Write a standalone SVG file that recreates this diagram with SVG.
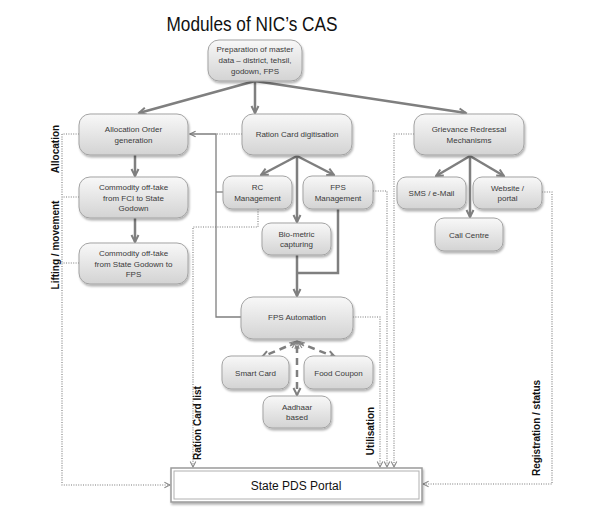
<svg xmlns="http://www.w3.org/2000/svg" width="608" height="520" viewBox="0 0 608 520">
<defs>
<linearGradient id="g" x1="0" y1="0" x2="0" y2="1">
<stop offset="0" stop-color="#f8f8f8"/>
<stop offset="1" stop-color="#d3d3d3"/>
</linearGradient>
<filter id="sh" x="-20%" y="-20%" width="140%" height="150%">
<feDropShadow dx="1" dy="2" stdDeviation="1.3" flood-color="#000" flood-opacity="0.3"/>
</filter>
<marker id="ah" viewBox="0 0 10 10" refX="8.5" refY="5" markerWidth="4" markerHeight="4" orient="auto" markerUnits="strokeWidth">
<path d="M1.5,1.5 L8.5,5 L1.5,8.5" fill="none" stroke="#7f7f7f" stroke-width="2"/>
</marker>
<marker id="ad" viewBox="0 0 10 10" refX="8.5" refY="5" markerWidth="8" markerHeight="8" orient="auto" markerUnits="userSpaceOnUse">
<path d="M1.5,1.5 L8.5,5 L1.5,8.5" fill="none" stroke="#888" stroke-width="1.3"/>
</marker>
<marker id="at" viewBox="0 0 10 10" refX="8.5" refY="5" markerWidth="8" markerHeight="8" orient="auto" markerUnits="userSpaceOnUse">
<path d="M1.5,1.5 L8.5,5 L1.5,8.5" fill="none" stroke="#7f7f7f" stroke-width="1.5"/>
</marker>
</defs>
<style>
.n rect{fill:url(#g);stroke:#a3a3a3;stroke-width:1;filter:url(#sh)}
.n text{font-family:"Liberation Sans",Arial,sans-serif;font-size:8px;fill:#3a3a3a;text-anchor:middle}
.thick{fill:none;stroke:#7f7f7f;stroke-width:2.5;marker-end:url(#ah)}
.thin{fill:none;stroke:#7f7f7f;stroke-width:1.3}
.dot{fill:none;stroke:#7a7a7a;stroke-width:1.1;stroke-dasharray:1 1.4}
.dash{fill:none;stroke:#7f7f7f;stroke-width:2.5;stroke-dasharray:7 5;marker-end:url(#ah)}
.lab{font-family:"Liberation Sans",Arial,sans-serif;font-size:10px;font-weight:bold;fill:#111;text-anchor:middle}
</style>
<rect width="608" height="520" fill="#fff"/>
<text x="252" y="31" font-family="Liberation Sans,Arial,sans-serif" font-size="21" fill="#111" text-anchor="middle" textLength="171" lengthAdjust="spacingAndGlyphs">Modules of NIC’s CAS</text>

<g id="connectors">
<path class="thick" d="M255,81 L139,113"/>
<path class="thick" d="M255,81 L255,113"/>
<path class="thick" d="M255,81 L466,113"/>
<path class="thick" d="M135,155 L135,176"/>
<path class="thick" d="M135,218 L135,242"/>
<path class="thick" d="M297,156 L261,175"/>
<path class="thick" d="M297,156 L334,175"/>
<path class="thick" d="M297,156 L297,222"/>
<path class="thick" d="M297,255 L297,296"/>
<path fill="none" stroke="#7f7f7f" stroke-width="2.5" d="M338,209 L338,273 L297,273"/>
<path class="thick" d="M470,156 L436,176"/>
<path class="thick" d="M470,156 L504,176"/>
<path class="thick" d="M470,156 L470,217"/>
<path class="thin" d="M241,317 L216,317 L216,134 L190,134" marker-end="url(#at)"/>
<path class="thin" d="M216,192 L223,192"/>
<path class="dot" d="M242,134 L216,134"/>
<path class="dot" d="M79,134 L62,134 M79,197 L62,197 M79,263 L62,263"/>
<path class="dot" d="M62,134 L62,485 L170,485" marker-end="url(#ad)"/>
<path class="dot" d="M258,209 L258,227 L193,227 L193,467" marker-end="url(#ad)"/>
<path class="dot" d="M353,317 L380,317 L380,467" marker-end="url(#ad)"/>
<path class="dot" d="M373,191 L387,191 L387,467" marker-end="url(#ad)"/>
<path class="dot" d="M414,134 L394,134 L394,467" marker-end="url(#ad)"/>
<path class="dot" d="M542,192 L552,192 L552,484 L423,484" marker-end="url(#ad)"/>
<path class="dash" d="M297,342 L262,357"/>
<path class="dash" d="M297,342 L335,357"/>
<path class="dash" d="M297,346 L297,395"/>
<path fill="none" stroke="#8a8a8a" stroke-width="1.2" d="M297,341 L290,346 M297,341 L292,348 M297,341 L295,349 M297,341 L299,349 M297,341 L302,348 M297,341 L304,346 M297,341 L289,343 M297,341 L305,343"/>
</g>

<g id="master" class="n"><rect x="208" y="40" width="94" height="41" rx="11"/>
<text x="255" y="52">Preparation of master</text><text x="255" y="63">data – district, tehsil,</text><text x="255" y="74">godown, FPS</text></g>
<g id="allocation" class="n"><rect x="79" y="114" width="109" height="41" rx="11"/>
<text x="133.5" y="132">Allocation Order</text><text x="133.5" y="142.5">generation</text></g>
<g id="rcdigit" class="n"><rect x="242" y="114" width="110" height="41" rx="11"/>
<text x="297" y="137">Ration Card digitisation</text></g>
<g id="grievance" class="n"><rect x="414" y="114" width="110" height="41" rx="11"/>
<text x="469" y="132">Grievance Redressal</text><text x="469" y="142.5">Mechanisms</text></g>
<g id="fci" class="n"><rect x="79" y="177" width="109" height="41" rx="11"/>
<text x="133.5" y="190">Commodity off-take</text><text x="133.5" y="200.5">from FCI to State</text><text x="133.5" y="211">Godown</text></g>
<g id="sgfps" class="n"><rect x="79" y="243" width="109" height="41" rx="11"/>
<text x="133.5" y="256">Commodity off-take</text><text x="133.5" y="266.5">from State Godown to</text><text x="133.5" y="277">FPS</text></g>
<g id="rcm" class="n"><rect x="223" y="176" width="69" height="33" rx="9"/>
<text x="257.5" y="190">RC</text><text x="257.5" y="200.5">Management</text></g>
<g id="fpsm" class="n"><rect x="303" y="176" width="70" height="33" rx="9"/>
<text x="338" y="190">FPS</text><text x="338" y="200.5">Management</text></g>
<g id="bio" class="n"><rect x="262" y="223" width="69" height="32" rx="9"/>
<text x="296.5" y="236.5">Bio-metric</text><text x="296.5" y="247">capturing</text></g>
<g id="fpsa" class="n"><rect x="241" y="297" width="112" height="42" rx="12"/>
<text x="297" y="320">FPS Automation</text></g>
<g id="smart" class="n"><rect x="222" y="356" width="67" height="33" rx="9"/>
<text x="255.5" y="375.5">Smart Card</text></g>
<g id="food" class="n"><rect x="304" y="356" width="69" height="33" rx="9"/>
<text x="338.5" y="375.5">Food Coupon</text></g>
<g id="aadhaar" class="n"><rect x="263" y="396" width="68" height="32" rx="9"/>
<text x="297" y="409.5">Aadhaar</text><text x="297" y="420">based</text></g>
<g id="sms" class="n"><rect x="397" y="177" width="69" height="32" rx="9"/>
<text x="431.5" y="195.5">SMS / e-Mail</text></g>
<g id="website" class="n"><rect x="473" y="177" width="69" height="32" rx="9"/>
<text x="507.5" y="190.5">Website /</text><text x="507.5" y="201">portal</text></g>
<g id="call" class="n"><rect x="435" y="218" width="68" height="33" rx="9"/>
<text x="469" y="237.5">Call Centre</text></g>

<g id="portal">
<rect x="171" y="468" width="251" height="34" fill="#fff" stroke="#9a9a9a" stroke-width="1.5" filter="url(#sh)"/>
<rect x="174" y="471" width="245" height="28" fill="#fff" stroke="#b0b0b0" stroke-width="1"/>
<text x="296" y="490" font-family="Liberation Sans,Arial,sans-serif" font-size="12" fill="#111" text-anchor="middle">State PDS Portal</text>
</g>

<g id="labels">
<text class="lab" transform="translate(59,149) rotate(-90)">Allocation</text>
<text class="lab" transform="translate(59,245) rotate(-90)">Lifting / movement</text>
<text class="lab" transform="translate(201,423) rotate(-90)">Ration Card list</text>
<text class="lab" transform="translate(374,431) rotate(-90)">Utilisation</text>
<text class="lab" transform="translate(540,428) rotate(-90)">Registration / status</text>
</g>
</svg>
